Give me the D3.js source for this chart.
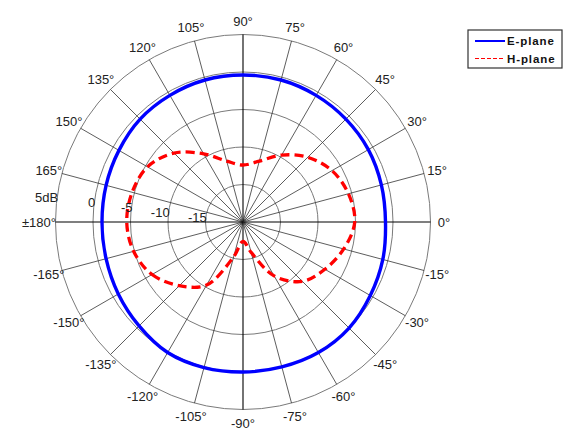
<!DOCTYPE html>
<html>
<head>
<meta charset="utf-8">
<script src="https://cdn.jsdelivr.net/npm/d3@7"></script>
<style>
  body { margin: 0; background: #fff; }
  text { font-family: Arial, "Liberation Sans", sans-serif; }
</style>
</head>
<body>
<div id="chart"></div>
<script>
// angles in degrees, 0 to the right, counter-clockwise
var angles = [0, 15, 30, 45, 60, 75, 90, 105, 120, 135, 150, 165, 180,
              -165, -150, -135, -120, -105, -90, -75, -60, -45, -30, -15];
// E-plane gain (dB)
var ePlane = [-1.0, -0.9, -0.7, -0.6, -0.5, -0.4, -0.4, -0.4, -0.5, -0.6, -0.9, -1.1, -1.2,
              -1.1, -0.8, -0.4, 0.1, 0.1, 0.0, 0.0, 0.1, 0.0, -0.4, -0.7];
// H-plane gain (dB)
var hPlane = [-5.1, -5.45, -6.3, -7.8, -9.7, -11.6, -12.4, -11.6, -9.5, -7.0, -5.3, -4.7, -4.5,
              -4.9, -6.0, -8.0, -10.3, -15.2, -17.4, -15.8, -11.7, -8.8, -7.4, -6.1];

var ringValues = [-15, -10, -5, 0, 5];
var ringLabels = ["-15", "-10", "-5", "0", "5dB"];
var spokeAngles = [-165, -150, -135, -120, -105, -90, -75, -60, -45, -30, -15,
                   0, 15, 30, 45, 60, 75, 90, 105, 120, 135, 150, 165, 180];
var seriesNames = ["E-plane", "H-plane"];

var svgWidth = 580;
var svgHeight = 443;
var cx = 243;
var cy = 222;
var outerR = 187.5;

var rScale = d3.scaleLinear()
    .domain([-20, 5])
    .range([0, outerR]);

function rad(deg) { return deg * Math.PI / 180; }
function px(deg, r) { return cx + r * Math.cos(rad(deg)); }
function py(deg, r) { return cy - r * Math.sin(rad(deg)); }

var svg = d3.select("#chart")
    .append("svg")
    .attr("width", svgWidth)
    .attr("height", svgHeight);

var g = svg.append("g")
    .attr("transform", `translate(${cx},${cy})`);

// rings
g.selectAll("circle.ring")
    .data(ringValues)
    .enter()
    .append("circle")
    .attr("class", "ring")
    .attr("r", d => rScale(d))
    .attr("fill", "none")
    .attr("stroke", "#7a7a7a")
    .attr("stroke-width", 1);

// spokes
g.selectAll("line.spoke")
    .data(spokeAngles)
    .enter()
    .append("line")
    .attr("class", "spoke")
    .attr("x1", 0)
    .attr("y1", 0)
    .attr("x2", d => outerR * Math.cos(rad(d)))
    .attr("y2", d => -outerR * Math.sin(rad(d)))
    .attr("stroke", d => (d % 90 === 0) ? "#000" : "#333")
    .attr("stroke-width", d => (d % 90 === 0) ? 1.1 : 0.8);

// angle labels
svg.append("g").selectAll("text")
    .data(spokeAngles)
    .enter()
    .append("text")
    .attr("x", d => px(d, 201) - (d === 180 ? 3 : 0))
    .attr("y", d => py(d, 201))
    .attr("dy", "0.35em")
    .attr("text-anchor", "middle")
    .attr("font-size", "13px")
    .attr("fill", "#222")
    .text(d => d === 180 ? "\u00b1180\u00b0" : d + "\u00b0");

// ring labels
svg.append("g").selectAll("text")
    .data(ringValues)
    .enter()
    .append("text")
    .attr("x", (d, i) => px(172.5, rScale(d)) + 1)
    .attr("y", (d, i) => py(172.5, rScale(d)))
    .attr("dy", "0.35em")
    .attr("text-anchor", "end")
    .attr("font-size", "13px")
    .attr("fill", "#222")
    .text((d, i) => ringLabels[i]);

var line = d3.lineRadial()
    .angle(d => rad(90 - d[0]))
    .radius(d => rScale(d[1]))
    .curve(d3.curveCatmullRomClosed.alpha(0.5));

// sort by angle so the closed curve goes round in order
function pairs(vals) {
    return angles.map((a, i) => [a, vals[i]]).sort((a, b) => a[0] - b[0]);
}

g.append("path")
    .datum(pairs(hPlane))
    .attr("d", line)
    .attr("fill", "none")
    .attr("stroke", "#ff0000")
    .attr("stroke-width", 3.3)
    .attr("stroke-dasharray", "9,5");

g.append("path")
    .datum(pairs(ePlane))
    .attr("d", line)
    .attr("fill", "none")
    .attr("stroke", "#0000ff")
    .attr("stroke-width", 3.4);

// legend
var legend = svg.append("g")
    .attr("transform", "translate(468,30)");

legend.append("rect")
    .attr("width", 94)
    .attr("height", 38)
    .attr("fill", "#fff")
    .attr("stroke", "#333")
    .attr("stroke-width", 1.2);

var legendStyles = [
    {color: "#0000ff", dash: null, width: 2},
    {color: "#ff0000", dash: "4,2", width: 1.2}
];

seriesNames.forEach((name, i) => {
    var y = 11 + i * 17.5;
    legend.append("line")
        .attr("x1", 7)
        .attr("x2", 37)
        .attr("y1", y)
        .attr("y2", y)
        .attr("stroke", legendStyles[i].color)
        .attr("stroke-width", legendStyles[i].width)
        .attr("stroke-dasharray", legendStyles[i].dash);
    legend.append("text")
        .attr("x", 39)
        .attr("y", y)
        .attr("dy", "0.35em")
        .attr("font-size", "11.5px")
        .attr("font-weight", "bold")
        .attr("letter-spacing", "0.9px")
        .attr("fill", "#111")
        .text(name);
});
</script>
</body>
</html>
